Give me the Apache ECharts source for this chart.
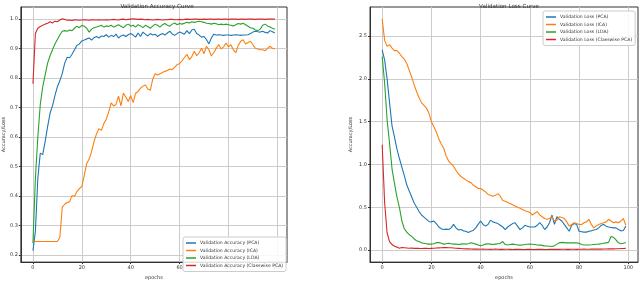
<!DOCTYPE html>
<html>
<head>
<meta charset="utf-8">
<script src="https://cdn.jsdelivr.net/npm/echarts@6/dist/echarts.min.js"></script>
<style>html,body{margin:0;padding:0;background:#fff;}#c{width:640px;height:285px;}</style>
</head>
<body>
<div id="c"></div>
<script>
// ---- data ----
const accTitle = "Validation Accuracy Curve";
const lossTitle = "Validation Loss Curve";
const accNames = ["Validation Accuracy (PCA)", "Validation Accuracy (ICA)", "Validation Accuracy (LDA)", "Validation Accuracy (Classwise PCA)"];
const lossNames = ["Validation Loss (PCA)", "Validation Loss (ICA)", "Validation Loss (LDA)", "Validation Loss (Classwise PCA)"];
const xTicks = [0, 20, 40, 60, 80, 100];
const accTicks = [0.2, 0.3, 0.4, 0.5, 0.6, 0.7, 0.8, 0.9, 1.0];
const lossTicks = [0.0, 0.5, 1.0, 1.5, 2.0, 2.5];
const epochs = Array.from({length: 100}, (_, i) => i);

const accPCA = [0.215,0.28,0.46,0.545,0.54,0.585,0.635,0.68,0.705,0.74,
0.77,0.79,0.815,0.85,0.87,0.868,0.88,0.895,0.91,0.915,
0.925,0.928,0.932,0.935,0.928,0.936,0.94,0.935,0.942,0.94,
0.946,0.938,0.944,0.94,0.948,0.935,0.942,0.945,0.94,0.946,
0.95,0.945,0.938,0.952,0.94,0.955,0.948,0.942,0.95,0.945,
0.948,0.94,0.946,0.95,0.945,0.952,0.958,0.948,0.944,0.95,
0.955,0.952,0.948,0.96,0.95,0.962,0.965,0.95,0.945,0.938,
0.94,0.93,0.915,0.935,0.948,0.945,0.946,0.945,0.944,0.945,
0.945,0.944,0.945,0.946,0.945,0.944,0.945,0.945,0.946,0.95,
0.955,0.958,0.956,0.955,0.958,0.954,0.952,0.96,0.956,0.952];

const accICA = [0.246,0.246,0.246,0.246,0.246,0.246,0.246,0.246,0.246,0.246,
0.246,0.26,0.362,0.372,0.378,0.38,0.402,0.398,0.415,0.425,
0.432,0.47,0.51,0.525,0.55,0.585,0.61,0.628,0.622,0.645,
0.66,0.685,0.715,0.705,0.71,0.738,0.705,0.748,0.735,0.72,
0.74,0.716,0.748,0.754,0.765,0.772,0.776,0.762,0.758,0.795,
0.814,0.81,0.814,0.818,0.822,0.825,0.83,0.828,0.836,0.845,
0.848,0.858,0.869,0.88,0.862,0.872,0.89,0.875,0.885,0.9,
0.882,0.907,0.895,0.874,0.885,0.9,0.913,0.898,0.905,0.918,
0.905,0.912,0.895,0.885,0.91,0.924,0.929,0.915,0.92,0.924,
0.912,0.9,0.898,0.895,0.895,0.892,0.9,0.907,0.9,0.898];

const accLDA = [0.24,0.46,0.6,0.71,0.77,0.81,0.85,0.875,0.895,0.915,
0.93,0.945,0.958,0.96,0.958,0.962,0.96,0.968,0.975,0.97,
0.978,0.975,0.968,0.955,0.965,0.97,0.972,0.975,0.978,0.972,
0.976,0.974,0.978,0.972,0.976,0.98,0.975,0.97,0.978,0.982,
0.975,0.978,0.972,0.98,0.976,0.97,0.978,0.974,0.968,0.975,
0.982,0.978,0.972,0.98,0.984,0.978,0.975,0.982,0.986,0.98,
0.984,0.982,0.985,0.988,0.986,0.99,0.988,0.99,0.992,0.99,
0.988,0.985,0.984,0.982,0.985,0.983,0.98,0.982,0.98,0.982,
0.98,0.978,0.976,0.98,0.984,0.982,0.985,0.98,0.975,0.97,
0.968,0.962,0.96,0.965,0.978,0.982,0.976,0.972,0.968,0.965];

const accCPCA = [0.78,0.95,0.968,0.974,0.978,0.982,0.985,0.99,0.986,0.992,
0.99,0.996,1.0,0.998,0.995,0.996,0.994,0.997,0.996,0.995,
0.996,0.997,0.996,0.995,0.997,0.996,0.996,0.997,0.996,0.996,
0.997,0.996,0.997,0.998,0.997,0.996,0.998,0.999,0.997,0.998,
0.999,1.0,0.999,0.998,0.999,0.998,0.997,0.998,0.997,0.996,
0.997,0.998,0.997,0.996,0.997,0.997,0.998,0.998,0.997,0.997,
0.998,0.997,0.998,0.999,0.998,0.998,0.999,0.999,0.998,0.998,
0.999,0.998,0.999,0.999,0.998,0.999,0.999,0.998,0.999,0.999,
0.998,0.999,0.999,0.999,0.998,0.999,0.999,0.998,0.999,0.999,
0.999,0.998,0.999,0.999,0.999,0.998,0.999,0.999,0.999,0.999];

const lossPCA = [2.34,2.22,2.0,1.72,1.45,1.32,1.18,1.07,0.97,0.87,
0.76,0.69,0.62,0.55,0.5,0.45,0.41,0.385,0.36,0.335,
0.33,0.34,0.31,0.27,0.25,0.24,0.245,0.24,0.26,0.3,
0.26,0.235,0.24,0.225,0.22,0.205,0.22,0.23,0.26,0.3,
0.34,0.3,0.28,0.3,0.35,0.33,0.32,0.31,0.29,0.27,
0.24,0.27,0.29,0.31,0.32,0.28,0.24,0.26,0.29,0.28,
0.27,0.27,0.27,0.29,0.32,0.29,0.24,0.27,0.32,0.41,
0.3,0.39,0.36,0.34,0.3,0.26,0.22,0.29,0.31,0.3,
0.22,0.215,0.21,0.21,0.22,0.225,0.235,0.24,0.26,0.29,
0.3,0.28,0.27,0.265,0.26,0.26,0.24,0.225,0.23,0.28];

const lossICA = [2.7,2.45,2.38,2.4,2.36,2.33,2.33,2.3,2.26,2.23,
2.18,2.1,2.02,1.93,1.85,1.78,1.72,1.69,1.66,1.6,
1.5,1.44,1.38,1.3,1.24,1.19,1.1,1.04,1.01,0.98,
0.93,0.89,0.86,0.84,0.82,0.8,0.79,0.76,0.74,0.72,
0.72,0.7,0.68,0.65,0.64,0.63,0.64,0.66,0.63,0.58,
0.57,0.555,0.545,0.53,0.515,0.5,0.49,0.475,0.46,0.45,
0.44,0.41,0.43,0.45,0.41,0.39,0.37,0.36,0.37,0.39,
0.34,0.35,0.39,0.38,0.37,0.33,0.28,0.3,0.32,0.31,
0.3,0.3,0.32,0.33,0.36,0.3,0.26,0.28,0.3,0.31,
0.32,0.33,0.36,0.34,0.32,0.33,0.32,0.34,0.37,0.29];

const lossLDA = [2.26,1.95,1.52,1.25,0.95,0.78,0.62,0.5,0.34,0.25,
0.21,0.18,0.16,0.13,0.11,0.1,0.085,0.08,0.075,0.07,
0.07,0.075,0.085,0.09,0.08,0.07,0.075,0.08,0.075,0.07,
0.07,0.065,0.07,0.075,0.07,0.075,0.085,0.08,0.07,0.06,
0.05,0.06,0.07,0.075,0.07,0.065,0.07,0.075,0.08,0.1,
0.065,0.06,0.065,0.07,0.065,0.06,0.058,0.06,0.065,0.068,
0.07,0.068,0.065,0.06,0.058,0.055,0.05,0.048,0.045,0.042,
0.05,0.07,0.085,0.09,0.088,0.085,0.085,0.085,0.085,0.085,
0.08,0.065,0.06,0.06,0.06,0.062,0.065,0.068,0.07,0.075,
0.08,0.085,0.09,0.16,0.15,0.12,0.085,0.075,0.08,0.09];

const lossCPCA = [1.23,0.55,0.2,0.1,0.065,0.045,0.035,0.022,0.03,0.028,
0.025,0.022,0.024,0.02,0.022,0.02,0.019,0.021,0.02,0.019,
0.02,0.021,0.024,0.026,0.028,0.03,0.029,0.027,0.028,0.025,
0.022,0.02,0.018,0.016,0.015,0.014,0.013,0.012,0.012,0.011,
0.01,0.011,0.01,0.01,0.009,0.01,0.011,0.01,0.009,0.009,
0.01,0.01,0.009,0.008,0.009,0.01,0.009,0.008,0.008,0.009,
0.009,0.008,0.008,0.009,0.01,0.009,0.008,0.008,0.009,0.009,
0.01,0.009,0.009,0.01,0.01,0.009,0.009,0.01,0.01,0.009,
0.01,0.01,0.011,0.01,0.01,0.011,0.012,0.011,0.012,0.012,
0.013,0.013,0.014,0.014,0.015,0.016,0.016,0.018,0.019,0.02];

const colors = ["#1f77b4", "#ff7f0e", "#2ca02c", "#d62728"];
const accSeries = [accPCA, accICA, accLDA, accCPCA];
const lossSeries = [lossPCA, lossICA, lossLDA, lossCPCA];

// ---- chart ----
const FONT = "DejaVu Sans";
const chart = echarts.init(document.getElementById('c'), null, {renderer: 'canvas'});

function xAxisDef(gi) {
  return {
    type: 'value', gridIndex: gi, min: -4.95, max: 103.95,
    name: 'epochs', nameLocation: 'middle', nameGap: 11,
    nameTextStyle: {fontFamily: FONT, fontSize: 5, color: '#333'},
    axisLine: {show: true, onZero: false, lineStyle: {color: '#333', width: 1}},
    axisTick: {show: true, length: 2, customValues: xTicks, lineStyle: {color: '#333'}},
    axisLabel: {customValues: xTicks, fontFamily: FONT, fontSize: 5, color: '#333', margin: 3},
    splitLine: {show: true, lineStyle: {color: '#cccccc', width: 1}}
  };
}
function yAxisDef(gi, min, max, ticks, gap) {
  return {
    type: 'value', gridIndex: gi, min: min, max: max,
    name: 'Accuracy/Loss', nameLocation: 'middle', nameGap: gap,
    nameTextStyle: {fontFamily: FONT, fontSize: 5, color: '#333'},
    axisLine: {show: true, onZero: false, lineStyle: {color: '#333', width: 1}},
    axisTick: {show: true, length: 2, customValues: ticks, lineStyle: {color: '#333'}},
    axisLabel: {customValues: ticks, fontFamily: FONT, fontSize: 5, color: '#333', margin: 3,
      formatter: v => Number(v).toFixed(1)},
    splitLine: {show: true, lineStyle: {color: '#cccccc', width: 1}}
  };
}

const series = [];
accSeries.forEach((arr, i) => series.push({
  name: accNames[i], type: 'line', xAxisIndex: 0, yAxisIndex: 0,
  data: epochs.map((e, k) => [e, arr[k]]), showSymbol: false, symbol: 'none',
  lineStyle: {color: colors[i], width: 1.1}, itemStyle: {color: colors[i]}, z: 2 + i
}));
lossSeries.forEach((arr, i) => series.push({
  name: lossNames[i], type: 'line', xAxisIndex: 1, yAxisIndex: 1,
  data: epochs.map((e, k) => [e, arr[k]]), showSymbol: false, symbol: 'none',
  lineStyle: {color: colors[i], width: 1.1}, itemStyle: {color: colors[i]}, z: 2 + i
}));

const legendCommon = {
  orient: 'vertical', icon: 'rect', itemWidth: 10, itemHeight: 1.5, itemGap: 1.5,
  backgroundColor: 'rgba(255,255,255,0.85)', borderColor: '#cccccc', borderWidth: 1, borderRadius: 2,
  padding: [3, 3, 3, 3], selectedMode: false,
  textStyle: {fontFamily: FONT, fontSize: 4.6, lineHeight: 6, color: '#333', padding: [0, 0, 0, -1]}
};

chart.setOption({
  animation: false,
  backgroundColor: '#fff',
  title: [
    {text: accTitle, left: 152, top: -1, textAlign: 'center',
     textStyle: {fontFamily: FONT, fontSize: 5.6, fontWeight: 'normal', color: '#333'}},
    {text: lossTitle, left: 504, top: -1, textAlign: 'center',
     textStyle: {fontFamily: FONT, fontSize: 5.6, fontWeight: 'normal', color: '#333'}}
  ],
  grid: [
    {left: 17, right: 353, top: 7, bottom: 13, show: true, borderColor: '#333', borderWidth: 1, backgroundColor: 'transparent'},
    {left: 370, right: 2, top: 7, bottom: 14, show: true, borderColor: '#333', borderWidth: 1, backgroundColor: 'transparent'}
  ],
  xAxis: [xAxisDef(0), xAxisDef(1)],
  yAxis: [yAxisDef(0, 0.176, 1.04, accTicks, 13), yAxisDef(1, -0.14, 2.84, lossTicks, 17)],
  legend: [
    Object.assign({}, legendCommon, {data: accNames, left: 183, top: 237}),
    Object.assign({}, legendCommon, {data: lossNames, left: 543, top: 11})
  ],
  series: series
});
</script>
</body>
</html>
